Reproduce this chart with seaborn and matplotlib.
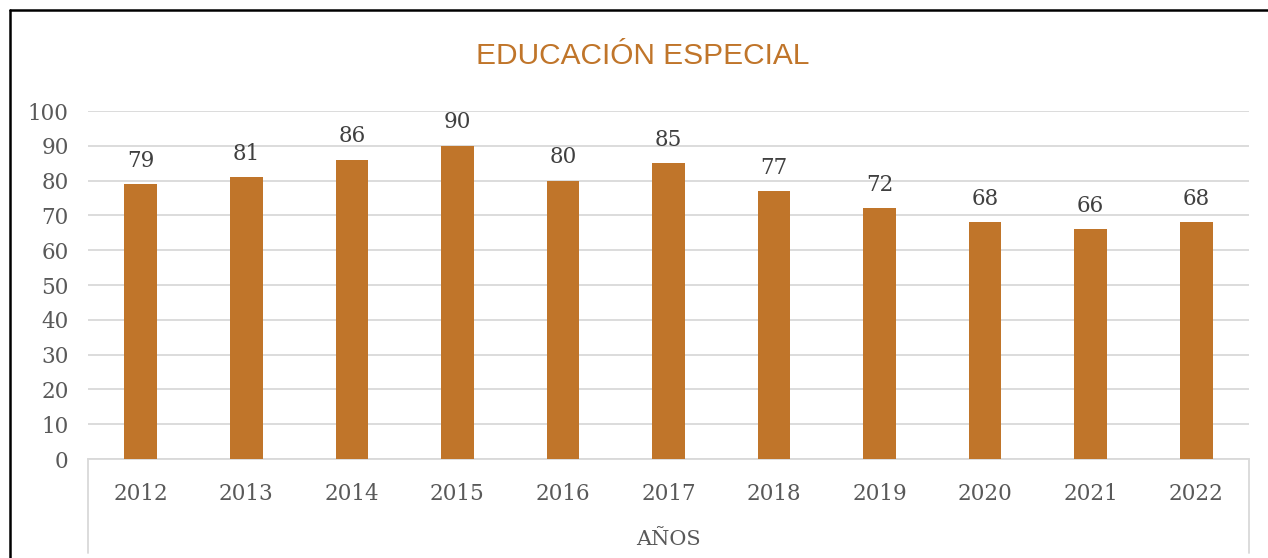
import matplotlib
matplotlib.use('Agg')
import matplotlib.pyplot as plt
import seaborn as sns
import pandas as pd
from matplotlib.lines import Line2D

years = ['2012', '2013', '2014', '2015', '2016', '2017', '2018', '2019', '2020', '2021', '2022']
values = [79, 81, 86, 90, 80, 85, 77, 72, 68, 66, 68]
y_ticks = [0, 10, 20, 30, 40, 50, 60, 70, 80, 90, 100]

df = pd.DataFrame({'anio': years, 'valor': values})

sns.set_style('white')
bar_color = '#C0752A'
text_color = '#595959'
grid_color = '#D9D9D9'

fig = plt.figure(figsize=(12.68, 5.58), dpi=100)
ax = fig.add_axes([88 / 1268, 99 / 558, (1249 - 88) / 1268, 348 / 558])

sns.barplot(data=df, x='anio', y='valor', color=bar_color, width=0.31,
            saturation=1, linewidth=0, ax=ax, zorder=3)

ax.set_ylim(0, 100)
ax.set_yticks(y_ticks)
ax.yaxis.grid(True, color=grid_color, linewidth=1.3, zorder=0)
ax.set_axisbelow(True)
for s in ['top', 'right', 'left']:
    ax.spines[s].set_visible(False)
ax.spines['bottom'].set_color(grid_color)
ax.spines['bottom'].set_linewidth(1.3)
ax.tick_params(axis='both', length=0, labelcolor=text_color, labelsize=15.5)
ax.tick_params(axis='y', pad=14)
ax.tick_params(axis='x', pad=17)
for lbl in ax.get_xticklabels() + ax.get_yticklabels():
    lbl.set_fontfamily('DejaVu Serif')

ax.bar_label(ax.containers[0], padding=9, fontsize=15.5, color='#404040',
             fontfamily='DejaVu Serif')

ax.set_xlabel('AÑOS', fontsize=15, color=text_color, fontfamily='DejaVu Serif',
              labelpad=18)
ax.set_ylabel('')

# category axis box lines
for xa in [0, 1]:
    ax.add_line(Line2D([xa, xa], [0, -0.27], transform=ax.transAxes,
                       color=grid_color, linewidth=1.3, clip_on=False))

fig.text(643 / 1268, 1 - 56 / 558, 'EDUCACIÓN ESPECIAL', ha='center', va='center',
         fontsize=21.5, color=bar_color, fontfamily='Liberation Sans')

# outer frame
fig.add_artist(Line2D([9.5 / 1268, 9.5 / 1268], [0, 1 - 10 / 558],
                      transform=fig.transFigure, color='black', linewidth=1.8))
fig.add_artist(Line2D([9.5 / 1268, 1], [1 - 10 / 558, 1 - 10 / 558],
                      transform=fig.transFigure, color='black', linewidth=1.8))

fig.savefig('out.png', dpi=100)
plt.close()
